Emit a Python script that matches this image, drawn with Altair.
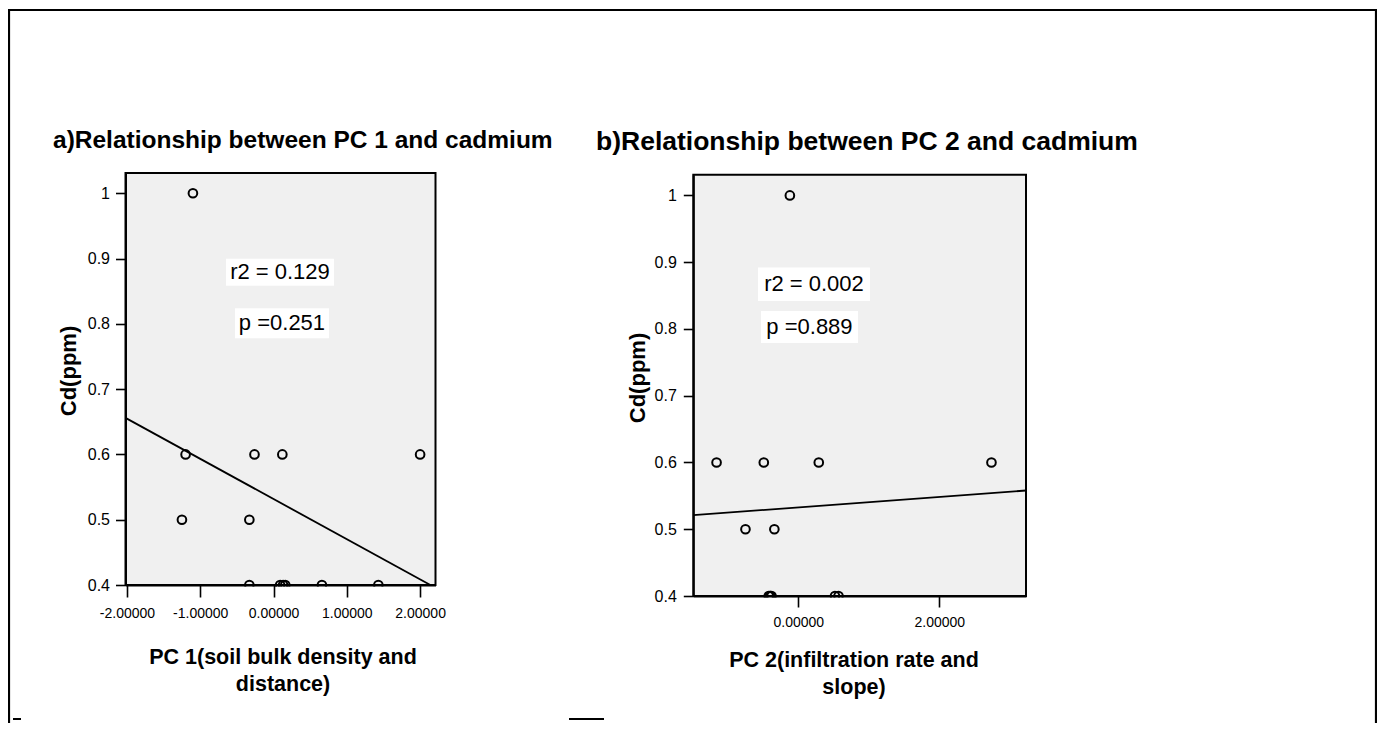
import altair as alt
import pandas as pd

# ---------------- data ----------------
pc1_x = [-1.10, -1.20, -0.26, 0.12, 2.00, -1.25, -0.33, -0.33, 0.09, 0.13, 0.16, 0.66, 1.43]
cd_a = [1.0, 0.6, 0.6, 0.6, 0.6, 0.5, 0.5, 0.4, 0.4, 0.4, 0.4, 0.4, 0.4]
pc2_x = [-0.12, -1.16, -0.49, 0.29, 2.74, -0.75, -0.34, -0.42, -0.40, -0.38, -0.40, 0.52, 0.57]
cd_b = [1.0, 0.6, 0.6, 0.6, 0.6, 0.5, 0.5, 0.4, 0.4, 0.4, 0.4, 0.4, 0.4]

fit_a_x = [-2.02, 2.14]
fit_a_y = [0.656, 0.400]
fit_b_x = [-1.49, 3.23]
fit_b_y = [0.521, 0.558]

x_ticks_a = [-2, -1, 0, 1, 2]
x_ticks_b = [0, 2]
y_ticks = [0.4, 0.5, 0.6, 0.7, 0.8, 0.9, 1.0]

stats_a = ["r2 = 0.129", "p =0.251"]
stats_a_x = [0.088, 0.115]
stats_a_y = [0.879, 0.801]
stats_b = ["r2 = 0.002", "p =0.889"]
stats_b_x = [0.222, 0.158]
stats_b_y = [0.867, 0.803]

titles = ["a)Relationship between PC 1 and cadmium", "b)Relationship between PC 2 and cadmium"]
x_title_a = ["PC 1(soil bulk density and", "distance)"]
x_title_b = ["PC 2(infiltration rate and", "slope)"]
y_title = "Cd(ppm)"

# ---------------- layout ----------------
W, H = 1369, 715
FONT = "Liberation Sans"


def box_path(ratio):
    return f"M-1,-{ratio}L1,-{ratio}L1,{ratio}L-1,{ratio}Z"


def panel(xs, ys, fx, fy, xdom, xrange, ydom, yrange, xticks,
          stats, sx, sy, boxes, xpad, xtick, ypad):
    xaxis = alt.Axis(orient="bottom", offset=yrange[0] - H, values=xticks,
                     labelExpr="(datum.value < 0 ? '-' : '') + format(abs(datum.value), '.5f')",
                     tickSize=xtick, tickWidth=1.6, tickColor="black",
                     domainColor="black", domainWidth=2, labelFont=FONT,
                     labelFontSize=14, labelColor="black", labelPadding=xpad,
                     grid=False, title=None, zindex=1, labelFlush=False,
                     labelOverlap=False)
    yaxis = alt.Axis(orient="left", offset=-xrange[0], values=y_ticks,
                     labelExpr="datum.value == 1 ? '1' : format(datum.value, '.1f')",
                     tickSize=10, tickWidth=1.6, tickColor="black",
                     domainColor="black", domainWidth=2, labelFont=FONT,
                     labelFontSize=16, labelColor="black", labelPadding=ypad,
                     grid=False, title=None, zindex=1, labelOverlap=False)
    xs_ = alt.Scale(domain=xdom, range=xrange, nice=False, zero=False)
    ys_ = alt.Scale(domain=ydom, range=yrange, nice=False, zero=False)

    frame = alt.Chart(pd.DataFrame({"x": [xdom[0]], "x2": [xdom[1]],
                                    "y": [ydom[0]], "y2": [ydom[1]]})).mark_rect(
        fill="#f0f0f0", stroke="black", strokeWidth=2
    ).encode(x=alt.X("x:Q", scale=xs_, axis=xaxis), x2="x2:Q",
             y=alt.Y("y:Q", scale=ys_, axis=yaxis), y2="y2:Q")

    fit = alt.Chart(pd.DataFrame({"x": fx, "y": fy})).mark_line(
        color="black", strokeWidth=1.8
    ).encode(x=alt.X("x:Q", scale=xs_, axis=xaxis), y=alt.Y("y:Q", scale=ys_, axis=yaxis))

    pts = alt.Chart(pd.DataFrame({"x": xs, "y": ys})).mark_point(
        shape="circle", filled=False, color="black", size=75, strokeWidth=2, opacity=1
    ).encode(x=alt.X("x:Q", scale=xs_, axis=xaxis), y=alt.Y("y:Q", scale=ys_, axis=yaxis))

    mask = alt.Chart(pd.DataFrame({"k": [0]})).mark_rect(color="white").encode(
        x=alt.value(xrange[0] - 1), x2=alt.value(xrange[1] + 1.5),
        y=alt.value(yrange[0] + 1.5), y2=alt.value(yrange[0] + 8))

    sdf = pd.DataFrame({"x": sx, "y": sy, "t": stats,
                        "shape": [box_path(r) for (_, r) in boxes],
                        "size": [w * w for (w, _) in boxes]})
    sbox = alt.Chart(sdf).mark_point(filled=True, color="white", opacity=1,
                                     strokeWidth=0).encode(
        x=alt.X("x:Q", scale=xs_, axis=xaxis), y=alt.Y("y:Q", scale=ys_, axis=yaxis),
        shape=alt.Shape("shape:N", scale=None), size=alt.Size("size:Q", scale=None))
    stxt = alt.Chart(sdf).mark_text(font=FONT, fontSize=22, color="black",
                                    baseline="middle", align="center").encode(
        x=alt.X("x:Q", scale=xs_, axis=xaxis), y=alt.Y("y:Q", scale=ys_, axis=yaxis),
        text="t:N")
    return alt.layer(frame, fit, pts, mask, sbox, stxt)


pa = panel(pc1_x, cd_a, fit_a_x, fit_a_y, [-2.02, 2.21], [117.5, 427.5],
           [0.4, 1.031], [577, 165], x_ticks_a, stats_a, stats_a_x, stats_a_y,
           [(108, 0.25), (94, 0.32)], 9, 12, 6)
pb = panel(pc2_x, cd_b, fit_b_x, fit_b_y, [-1.49, 3.23], [685.3, 1018],
           [0.4, 1.031], [588, 166.7], x_ticks_b, stats_b, stats_b_x, stats_b_y,
           [(112, 0.30), (97, 0.33)], 8, 11, 7)


def label(text, x, y, size, bold=True, angle=0, align="center", baseline="alphabetic"):
    return alt.Chart(pd.DataFrame({"t": [text]})).mark_text(
        font=FONT, fontSize=size, fontWeight="bold" if bold else "normal",
        color="black", align=align, baseline=baseline, angle=angle
    ).encode(text="t:N", x=alt.value(x), y=alt.value(y))


border = alt.Chart(pd.DataFrame({"k": [0]})).mark_rect(
    fill="transparent", stroke="black", strokeWidth=2.2
).encode(x=alt.value(1), x2=alt.value(1368), y=alt.value(2), y2=alt.value(H + 40))

dash1 = alt.Chart(pd.DataFrame({"k": [0]})).mark_rule(color="black", strokeWidth=2).encode(
    x=alt.value(5), x2=alt.value(13), y=alt.value(711))
dash2 = alt.Chart(pd.DataFrame({"k": [0]})).mark_rule(color="black", strokeWidth=2).encode(
    x=alt.value(561), x2=alt.value(596), y=alt.value(711))

texts = [
    label(titles[0], 45, 140, 24.5, align="left"),
    label(titles[1], 588, 142, 26.5, align="left"),
    label(y_title, 68, 363, 22, angle=270),
    label(y_title, 637, 370, 22, angle=270),
    label(x_title_a[0], 275, 656, 21.5),
    label(x_title_a[1], 275, 683, 21.5),
    label(x_title_b[0], 846, 659, 21.5),
    label(x_title_b[1], 846, 686, 21.5),
]

chart = alt.layer(border, pa, pb, dash1, dash2, *texts).resolve_scale(
    x="independent", y="independent"
).resolve_axis(x="independent", y="independent").properties(
    width=W, height=H, autosize=alt.AutoSizeParams(type="none"), padding=0,
    background="white"
).configure_view(stroke="transparent")

chart.save("out.html", embed_options={"renderer": "svg", "actions": False})
